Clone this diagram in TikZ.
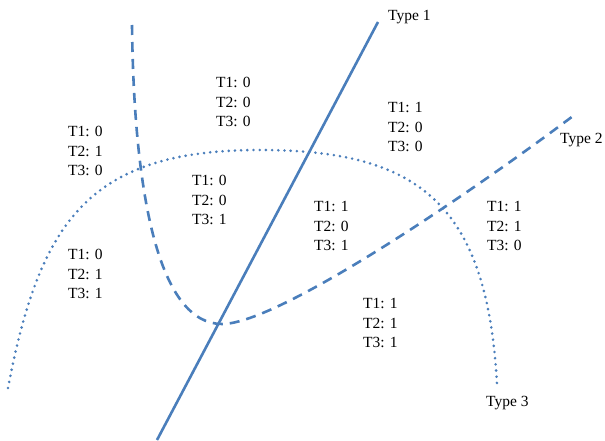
\documentclass[tikz,border=0pt]{standalone}
\usepackage{fontspec}
\setmainfont{Liberation Serif}
\definecolor{lineblue}{RGB}{74,126,187}
\begin{document}
\begin{tikzpicture}[x=1pt,y=-1pt,
  curve/.style={draw=lineblue,line width=2.6pt},
  dashcurve/.style={curve,dash pattern=on 10pt off 7pt},
  dotcurve/.style={draw=lineblue,line width=2.9pt,line cap=round,dash pattern=on 0pt off 6.2pt},
  region/.style={anchor=west,inner sep=0pt,align=left,font=\fontsize{15.5}{19.5}\selectfont},
  typelabel/.style={anchor=west,inner sep=0pt,font=\fontsize{15.5}{19}\selectfont}]
\useasboundingbox (0,0) rectangle (605,441);
% Type 1 (solid)
\coordinate (t1a) at (157,440);
\coordinate (t1b) at (378,22);
\draw[curve] (t1a) -- (t1b);
% Type 2 (dashed)
\coordinate (t2a) at (132,25);
\coordinate (t2m) at (222,324);
\coordinate (t2b) at (573,116);
\draw[dashcurve] (t2a) .. controls (134,200) and (160,324) .. (t2m)
  .. controls (280,324) and (480,186) .. (t2b);
% Type 3 (dotted)
\coordinate (t3a) at (8,388);
\coordinate (t3m) at (260,150);
\coordinate (t3b) at (497,384);
\draw[dotcurve] (t3a) .. controls (40,220) and (90,150) .. (t3m)
  .. controls (420,150) and (487,205) .. (t3b);
% labels
\node[typelabel] (type1) at (388,17) {Type 1};
\node[typelabel] (type2) at (560,140) {Type 2};
\node[typelabel] (type3) at (486,403) {Type 3};
\node[region] (r000) at (216,102) {T1: 0\\T2: 0\\T3: 0};
\node[region] (r100) at (388,127) {T1: 1\\T2: 0\\T3: 0};
\node[region] (r010) at (68,151) {T1: 0\\T2: 1\\T3: 0};
\node[region] (r001) at (192,200) {T1: 0\\T2: 0\\T3: 1};
\node[region] (r011) at (68,274) {T1: 0\\T2: 1\\T3: 1};
\node[region] (r101) at (314,226) {T1: 1\\T2: 0\\T3: 1};
\node[region] (r110) at (487,226) {T1: 1\\T2: 1\\T3: 0};
\node[region] (r111) at (363,323) {T1: 1\\T2: 1\\T3: 1};
\end{tikzpicture}
\end{document}
